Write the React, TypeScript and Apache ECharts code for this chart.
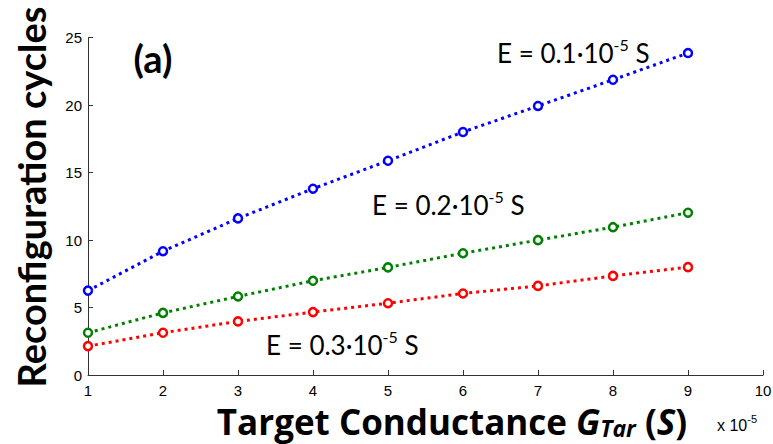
import React, { useEffect, useRef } from "react";
import * as echarts from "echarts";

const xValues = [1, 2, 3, 4, 5, 6, 7, 8, 9];
const blueE01 = [6.25, 9.17, 11.6, 13.8, 15.87, 18.0, 19.93, 21.87, 23.85];
const greenE02 = [3.13, 4.6, 5.82, 6.98, 7.97, 9.02, 9.99, 10.95, 12.02];
const redE03 = [2.14, 3.13, 3.97, 4.66, 5.32, 6.04, 6.6, 7.34, 7.99];
const xTicks = [1, 2, 3, 4, 5, 6, 7, 8, 9, 10];
const yTicks = [0, 5, 10, 15, 20, 25];

const toPairs = (ys: number[]) => xValues.map((x, i) => [x, ys[i]]);

export default function App() {
  const ref = useRef<HTMLDivElement>(null);
  useEffect(() => {
    if (!ref.current) return;
    const chart = echarts.init(ref.current, null, { renderer: "svg" });
    const mkSeries = (name: string, data: number[], color: string) => ({
      name,
      type: "line",
      data: toPairs(data),
      symbol: "circle",
      symbolSize: 8,
      showSymbol: true,
      lineStyle: { color, width: 3, type: [3, 4] },
      itemStyle: { color: "#fff", borderColor: color, borderWidth: 2.5 },
      z: 3,
    });
    const annot = (x: number, y: number, val: string) => ({
      type: "text",
      left: x,
      top: y,
      style: {
        text: `{b|E = ${val}·10}{s|-5}{b| S}`,
        fill: "#000",
        rich: {
          b: { fontFamily: "Lato", fontSize: 26, fill: "#000", verticalAlign: "bottom", lineHeight: 30 },
          s: { fontFamily: "Lato", fontSize: 16, fill: "#000", verticalAlign: "top", lineHeight: 30, padding: [0, 0, 14, 0] },
        },
      },
    });
    const titleFont = "Open Sans";
    chart.setOption({
      animation: false,
      grid: { left: 88, right: 10, top: 37.5, bottom: 69, outerBoundsMode: "none", containLabel: false },
      xAxis: {
        type: "value",
        min: 1,
        max: 10,
        interval: 1,
        axisLine: { show: true, lineStyle: { color: "#333", width: 1 } },
        axisTick: { show: true, inside: true, length: 5, lineStyle: { color: "#333" } },
        splitLine: { show: false },
        axisLabel: {
          color: "#000",
          fontFamily: "Liberation Sans",
          fontSize: 15,
          margin: 8,
          formatter: (v: number) => (xTicks.includes(v) ? String(v) : ""),
        },
      },
      yAxis: {
        type: "value",
        min: 0,
        max: 25,
        interval: 5,
        axisLine: { show: true, lineStyle: { color: "#333", width: 1 } },
        axisTick: { show: true, inside: true, length: 5, lineStyle: { color: "#333" } },
        splitLine: { show: false },
        axisLabel: {
          color: "#000",
          fontFamily: "Liberation Sans",
          fontSize: 15,
          margin: 6,
          formatter: (v: number) => (yTicks.includes(v) ? String(v) : ""),
        },
      },
      series: [
        mkSeries("E = 0.1·10^-5 S", blueE01, "#0000ff"),
        mkSeries("E = 0.2·10^-5 S", greenE02, "#008000"),
        mkSeries("E = 0.3·10^-5 S", redE03, "#ff0000"),
      ],
      graphic: [
        {
          type: "text",
          x: 31,
          y: 197,
          rotation: Math.PI / 2,
          style: {
            text: "Reconfiguration cycles",
            fontFamily: "Lato",
            fontWeight: "bold",
            fontSize: 38,
            fill: "#000",
            align: "center",
            verticalAlign: "middle",
          },
        },
        {
          type: "text",
          x: 452,
          y: 425,
          style: {
            text: "{t|Target Conductance }{i|G}{sub|Tar}{t| (}{i|S}{t|)}",
            align: "center",
            verticalAlign: "middle",
            rich: {
              t: { fontFamily: titleFont, fontWeight: "bold", fontSize: 35, fill: "#000", verticalAlign: "bottom", lineHeight: 28 },
              i: { fontFamily: titleFont, fontWeight: "bold", fontStyle: "italic", fontSize: 35, fill: "#000", verticalAlign: "bottom", lineHeight: 28 },
              sub: { fontFamily: titleFont, fontWeight: "bold", fontStyle: "italic", fontSize: 23, fill: "#000", verticalAlign: "bottom", lineHeight: 28 },
            },
          },
        },
        {
          type: "text",
          x: 153,
          y: 58,
          style: { text: "(a)", fontFamily: "Lato", fontWeight: "bold", fontSize: 38, fill: "#000", align: "center", verticalAlign: "middle" },
        },
        annot(497, 36, "0.1"),
        annot(372, 188, "0.2"),
        annot(266, 328, "0.3"),
        {
          type: "text",
          left: 717,
          top: 413,
          style: {
            text: "{a|x 10}{s|-5}",
            rich: {
              a: { fontFamily: "Liberation Sans", fontSize: 16, fill: "#000", verticalAlign: "bottom", lineHeight: 20 },
              s: { fontFamily: "Liberation Sans", fontSize: 11, fill: "#000", verticalAlign: "top", lineHeight: 20, padding: [0, 0, 10, 0] },
            },
          },
        },
      ],
    });
    return () => chart.dispose();
  }, []);
  return <div ref={ref} style={{ width: 773, height: 444, position: "absolute", left: 0, top: 0 }} />;
}
